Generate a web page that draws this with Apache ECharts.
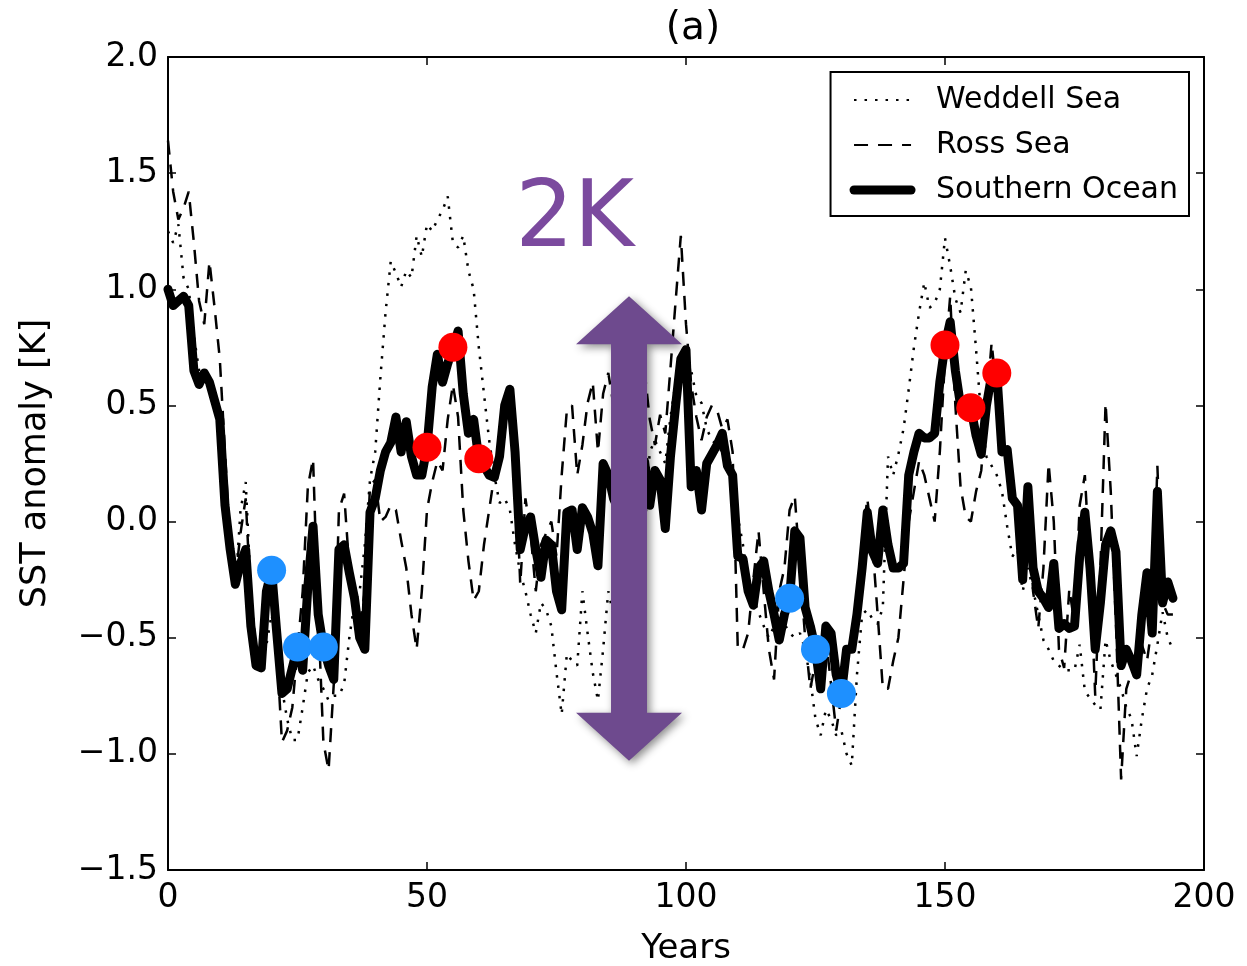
<!DOCTYPE html>
<html>
<head>
<meta charset="utf-8">
<script src="https://cdn.jsdelivr.net/npm/echarts@6/dist/echarts.min.js"></script>
<style>
  html, body { margin: 0; padding: 0; background: #fff; }
  #chart { width: 1247px; height: 966px; }
</style>
</head>
<body>
<div id="chart"></div>
<script>
  // SST anomaly [K], one value per year starting at year 0
  var weddell = [
    1.25, 1.20, 1.28, 1.05, 1.00, 0.80, 0.65, 0.60, 0.62, 0.55,
    0.40, 0.10, -0.05, -0.30, 0.05, 0.17, -0.30, -0.55, -0.60, -0.53,
    -0.40, -0.55, -0.72, -0.85, -0.94, -0.94, -0.80, -0.65, -0.62, -0.68,
    -0.72, -0.77, -0.75, -0.75, -0.70, -0.50, -0.35, -0.30, -0.10, 0.18,
    0.30, 0.62, 0.90, 1.12, 1.07, 1.01, 1.08, 1.05, 1.23, 1.14,
    1.28, 1.25, 1.30, 1.34, 1.40, 1.20, 1.18, 1.23, 1.08, 1.00,
    0.75, 0.55, 0.35, 0.20, 0.08, 0.10, 0.05, -0.10, -0.22, -0.30,
    -0.40, -0.48, -0.35, -0.38, -0.45, -0.65, -0.83, -0.57, -0.60, -0.62,
    -0.30, -0.48, -0.65, -0.77, -0.55, -0.30, -0.40, -0.30, -0.20, -0.30,
    -0.20, -0.10, -0.05, 0.30, 0.35, 0.30, 0.25, 0.45, 0.60, 0.70,
    0.68, 0.65, 0.54, 0.51, 0.40, 0.35, 0.33, 0.30, 0.31, 0.20,
    0.02, -0.10, -0.26, -0.33, -0.39, -0.45, -0.50, -0.45, -0.40, -0.44,
    -0.48, -0.50, -0.48, -0.55, -0.68, -0.85, -0.92, -0.81, -0.85, -0.92,
    -0.90, -1.00, -1.05, -0.66, -0.40, -0.38, -0.42, -0.44, -0.37, 0.28,
    0.20, 0.29, 0.40, 0.57, 0.75, 0.90, 1.03, 0.92, 0.94, 1.00,
    1.22, 1.10, 0.96, 0.90, 1.08, 1.01, 0.74, 0.45, 0.28, 0.24,
    0.20, 0.13, -0.02, -0.15, -0.12, -0.30, -0.20, -0.29, -0.40, -0.51,
    -0.55, -0.60, -0.62, -0.64, -0.64, -0.64, -0.53, -0.73, -0.76, -0.79,
    -0.81, -0.51, -0.60, -0.66, -0.72, -0.80, -0.85, -1.01, -0.85, -0.72,
    -0.66, -0.53, -0.39, -0.50, -0.55
  ];
  var ross = [
    1.64, 1.42, 1.30, 1.35, 1.42, 1.20, 0.95, 0.85, 1.12, 0.92,
    0.70, 0.30, -0.10, -0.25, -0.05, 0.10, -0.35, -0.55, -0.55, -0.25,
    -0.25, -0.55, -0.95, -0.90, -0.80, -0.55, -0.30, 0.15, 0.27, -0.40,
    -0.95, -1.07, -0.70, 0.05, 0.12, -0.20, -0.35, -0.45, -0.30, 0.15,
    0.18, 0.00, 0.02, 0.07, 0.05, -0.08, -0.20, -0.40, -0.55, -0.30,
    0.05, 0.17, 0.26, 0.22, 0.44, 0.59, 0.45, 0.05, -0.17, -0.34,
    -0.30, -0.10, 0.05, 0.20, 0.25, 0.50, 0.55, 0.30, -0.27, 0.10,
    -0.05, -0.30, -0.10, -0.05, 0.00, -0.15, 0.20, 0.48, 0.50, 0.20,
    0.33, 0.51, 0.60, 0.30, 0.55, 0.64, 0.50, 0.40, 0.50, 0.45,
    0.55, 0.60, 0.65, 0.44, 0.33, 0.46, 0.38, 0.66, 0.95, 1.23,
    0.85, 0.59, 0.45, 0.35, 0.45, 0.50, 0.48, 0.40, 0.44, 0.30,
    -0.55, -0.55, -0.48, -0.25, -0.04, -0.30, -0.55, -0.68, -0.30, -0.20,
    0.05, 0.11, -0.20, -0.50, -0.72, -0.60, -0.55, -0.50, -0.70, -0.90,
    -0.75, -0.60, -0.50, -0.35, -0.10, 0.10, -0.10, -0.40, -0.72, -0.72,
    -0.60, -0.50, -0.25, 0.00, 0.13, 0.26, 0.20, 0.10, 0.00, 0.30,
    0.70, 0.97, 0.50, 0.15, 0.02, 0.00, 0.13, 0.22, 0.50, 0.77,
    0.55, 0.35, 0.25, 0.10, 0.05, -0.22, 0.10, -0.30, -0.46, -0.20,
    0.25, 0.00, -0.55, -0.63, -0.29, -0.44, 0.07, 0.20, -0.20, -0.75,
    -0.20, 0.51, 0.13, -0.44, -1.11, -0.72, -0.65, -0.60, -0.53, -0.60,
    -0.44, 0.24, -0.35, -0.40, -0.40
  ];
  var southern = [
    1.00, 0.93, 0.95, 0.97, 0.93, 0.65, 0.59, 0.64, 0.60, 0.52,
    0.44, 0.07, -0.12, -0.27, -0.18, -0.12, -0.45, -0.62, -0.63, -0.30,
    -0.21, -0.48, -0.74, -0.72, -0.63, -0.54, -0.64, -0.28, -0.02, -0.40,
    -0.54, -0.62, -0.68, -0.12, -0.10, -0.22, -0.33, -0.50, -0.55, 0.04,
    0.10, 0.22, 0.30, 0.34, 0.45, 0.30, 0.43, 0.28, 0.20, 0.20,
    0.32, 0.58, 0.72, 0.60, 0.68, 0.75, 0.82, 0.55, 0.38, 0.44,
    0.27, 0.24, 0.20, 0.19, 0.28, 0.50, 0.57, 0.30, -0.12, -0.02,
    0.02, -0.12, -0.24, -0.08, -0.10, -0.30, -0.38, 0.04, 0.05, -0.12,
    0.06, 0.02, -0.05, -0.19, 0.25, 0.20, 0.10, 0.05, 0.15, 0.10,
    0.05, 0.20, 0.26, 0.07, 0.22, 0.18, -0.03, 0.28, 0.50, 0.70,
    0.74, 0.15, 0.22, 0.05, 0.25, 0.29, 0.33, 0.38, 0.24, 0.20,
    -0.15, -0.16, -0.30, -0.36, -0.20, -0.17, -0.30, -0.40, -0.51, -0.40,
    -0.33, -0.04, -0.07, -0.37, -0.45, -0.55, -0.72, -0.45, -0.48, -0.66,
    -0.74, -0.55, -0.55, -0.40, -0.20, 0.04, -0.13, -0.18, 0.05, -0.10,
    -0.20, -0.20, -0.18, 0.20, 0.30, 0.38, 0.36, 0.36, 0.38, 0.60,
    0.76, 0.86, 0.65, 0.50, 0.48, 0.49, 0.37, 0.29, 0.50, 0.63,
    0.64, 0.30, 0.31, 0.10, 0.07, -0.25, 0.15, -0.20, -0.30, -0.33,
    -0.37, -0.18, -0.46, -0.44, -0.46, -0.45, -0.15, 0.04, -0.20, -0.55,
    -0.35, -0.10, -0.04, -0.13, -0.62, -0.55, -0.60, -0.66, -0.40, -0.22,
    -0.48, 0.13, -0.35, -0.26, -0.33
  ];
  // years marked with dots
  var coldYears = [20, 25, 30, 120, 125, 130];
  var warmYears = [50, 55, 60, 150, 155, 160];
  var xTicks = [0, 50, 100, 150, 200];
  var yTicks = [-1.5, -1.0, -0.5, 0.0, 0.5, 1.0, 1.5, 2.0];
  // the 2K arrow
  var arrowYear = 89;
  var arrowTop = 0.97;
  var arrowBottom = -1.03;

  function pairs(arr) {
    return arr.map(function (v, i) { return [i, v]; });
  }
  function picks(yrs) {
    return yrs.map(function (y) { return [y, southern[y]]; });
  }
  function fmt(v) {
    return v.toFixed(1).replace('-', '\u2212');
  }

  var font = 'DejaVu Sans';
  var chart = echarts.init(document.getElementById('chart'));
  var axisLine = { show: true, onZero: false, lineStyle: { color: '#000', width: 2 } };
  var tick = { show: true, inside: true, length: 8, lineStyle: { color: '#000', width: 1.5 } };

  var option = {
    animation: false,
    backgroundColor: '#fff',
    textStyle: { fontFamily: font },
    title: {
      text: '(a)',
      left: 688,
      textAlign: 'center',
      top: 4,
      textStyle: { fontFamily: font, fontSize: 39, fontWeight: 'normal', color: '#000' }
    },
    grid: { left: 168, right: 43, top: 57, bottom: 96, outerBoundsMode: 'none' },
    legend: {
      data: [
        { name: 'Weddell Sea' },
        { name: 'Ross Sea' },
        { name: 'Southern Ocean', lineStyle: { width: 9 } }
      ],
      orient: 'vertical',
      right: 58,
      top: 72,
      backgroundColor: '#fff',
      borderColor: '#000',
      borderWidth: 2,
      borderRadius: 0,
      padding: [13, 11, 11, 19],
      itemGap: 15,
      itemWidth: 57,
      itemHeight: 12,
      itemStyle: { opacity: 0 },
      textStyle: { fontFamily: font, fontSize: 30, color: '#000', padding: [0, 0, 0, 20] }
    },
    xAxis: [{
      type: 'value', min: 0, max: 200, interval: 50,
      name: 'Years', nameLocation: 'middle', nameGap: 62,
      nameTextStyle: { fontFamily: font, fontSize: 34, color: '#000' },
      axisLine: axisLine, axisTick: tick, splitLine: { show: false },
      axisLabel: { fontFamily: font, fontSize: 33, color: '#000', margin: 12,
        formatter: function (v) { return xTicks.indexOf(v) >= 0 ? String(v) : ''; } }
    }, {
      type: 'value', min: 0, max: 200, interval: 50, position: 'top',
      axisLine: axisLine, axisTick: tick, splitLine: { show: false }, axisLabel: { show: false }
    }],
    yAxis: [{
      type: 'value', min: -1.5, max: 2.0, interval: 0.5,
      name: 'SST anomaly [K]', nameLocation: 'middle', nameGap: 115, nameRotate: 90,
      nameTextStyle: { fontFamily: font, fontSize: 35, color: '#000' },
      axisLine: axisLine, axisTick: tick, splitLine: { show: false },
      axisLabel: { fontFamily: font, fontSize: 33, color: '#000', margin: 10,
        formatter: function (v) { return yTicks.indexOf(v) >= 0 ? fmt(v) : ''; } }
    }, {
      type: 'value', min: -1.5, max: 2.0, interval: 0.5, position: 'right',
      axisLine: axisLine, axisTick: tick, splitLine: { show: false }, axisLabel: { show: false }
    }],
    series: [{
      name: 'Weddell Sea', type: 'line', data: pairs(weddell), symbol: 'none',
      lineStyle: { color: '#000', width: 2.5, type: [2.5, 8] }, itemStyle: { color: '#000' }, z: 2
    }, {
      name: 'Ross Sea', type: 'line', data: pairs(ross), symbol: 'none',
      lineStyle: { color: '#000', width: 2.5, type: [14, 10] }, itemStyle: { color: '#000' }, z: 3
    }, {
      name: 'Southern Ocean', type: 'line', data: pairs(southern), symbol: 'none',
      lineStyle: { color: '#000', width: 9, join: 'round', cap: 'round' }, itemStyle: { color: '#000' }, z: 4
    }, {
      name: 'cold', type: 'scatter', data: picks(coldYears), symbolSize: 29,
      itemStyle: { color: '#1e90ff', opacity: 1 }, z: 6
    }, {
      name: 'warm', type: 'scatter', data: picks(warmYears), symbolSize: 29,
      itemStyle: { color: '#ff0000', opacity: 1 }, z: 6
    }]
  };
  chart.setOption(option);

  // 2K annotation: double arrow spanning two kelvin
  var pTop = chart.convertToPixel({ gridIndex: 0 }, [arrowYear, arrowTop]);
  var pBot = chart.convertToPixel({ gridIndex: 0 }, [arrowYear, arrowBottom]);
  var cx = pTop[0], sw = 18, hw = 53, hh = 48;
  var pLabel = chart.convertToPixel({ gridIndex: 0 }, [arrowYear - 10.5, 1.29]);
  chart.setOption({
    graphic: [{
      type: 'polygon', z: 10,
      shape: { points: [
        [cx, pTop[1]], [cx + hw, pTop[1] + hh], [cx + sw, pTop[1] + hh],
        [cx + sw, pBot[1] - hh], [cx + hw, pBot[1] - hh], [cx, pBot[1]],
        [cx - hw, pBot[1] - hh], [cx - sw, pBot[1] - hh], [cx - sw, pTop[1] + hh],
        [cx - hw, pTop[1] + hh]
      ] },
      style: { fill: '#6e4a8e', shadowBlur: 8, shadowOffsetX: 3, shadowOffsetY: 3, shadowColor: 'rgba(0,0,0,0.45)' }
    }, {
      type: 'text', z: 10, x: pLabel[0], y: pLabel[1],
      style: { text: '2K', fontFamily: font, fontSize: 92, fill: '#7b4a9e', align: 'center', verticalAlign: 'middle' }
    }]
  });
</script>
</body>
</html>
